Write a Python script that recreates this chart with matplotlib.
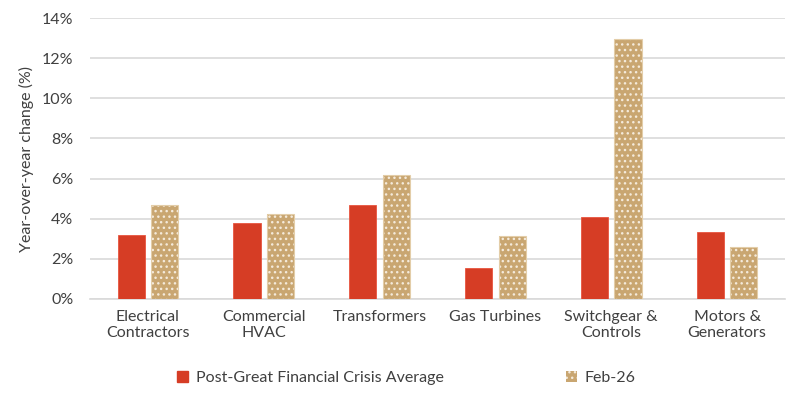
import matplotlib
matplotlib.use("Agg")
import matplotlib.pyplot as plt
import numpy as np
from matplotlib.patches import Patch

categories = ["Electrical\nContractors", "Commercial\nHVAC", "Transformers", "Gas Turbines",
              "Switchgear &\nControls", "Motors &\nGenerators"]
post_gfc = [3.2, 3.8, 4.7, 1.55, 4.1, 3.35]
feb26 = [4.7, 4.25, 6.2, 3.15, 12.95, 2.6]
yticks = [0, 2, 4, 6, 8, 10, 12, 14]

red = "#D63D25"
tan = "#C9A671"
txt = "#404040"

plt.rcParams['font.family'] = ['Lato', 'DejaVu Sans']
plt.rcParams['hatch.linewidth'] = 1.0

fig = plt.figure(figsize=(8, 4), dpi=100)
ax = fig.add_axes([0.1125, 0.2525, 0.86875, 0.7025])

x = np.arange(len(categories))
w = 0.235
off = 0.145
ax.bar(x - off, post_gfc, w, color=red, edgecolor="#E8553F", linewidth=0.6, zorder=3)
ax.bar(x + off, feb26, w, color=tan, edgecolor="#F4EADB", hatch="...", linewidth=0, zorder=3)
ax.bar(x + off, feb26, w, fill=False, edgecolor="#E3CDA8", linewidth=0.8, zorder=4)

ax.set_xlim(-0.5, len(categories) - 0.5)
ax.set_ylim(0, 14)
ax.set_yticks(yticks)
ax.set_yticklabels([f"{v}%" for v in yticks])
ax.set_xticks(x)
ax.set_xticklabels(categories)
ax.yaxis.grid(True, color="#D9D9D9", linewidth=1.2, zorder=0)
ax.set_axisbelow(True)
for s in ["top", "right", "left"]:
    ax.spines[s].set_visible(False)
ax.spines["bottom"].set_color("#D9D9D9")
ax.spines["bottom"].set_linewidth(1.2)
ax.tick_params(axis="both", length=0, colors=txt, labelsize=11.5)
ax.tick_params(axis="y", pad=12)
ax.tick_params(axis="x", pad=8)
ax.set_ylabel("Year-over-year change (%)", color=txt, fontsize=11.5, labelpad=6)

handles = [Patch(facecolor=red, edgecolor=red),
           Patch(facecolor=tan, edgecolor="#F4EADB", hatch="...", linewidth=0)]
fig.legend(handles, ["Post-Great Financial Crisis Average", "Feb-26"], loc="center",
           bbox_to_anchor=(0.508, 0.055), ncol=2, frameon=False, fontsize=11.5,
           columnspacing=7.6, handlelength=0.7, handleheight=0.7, handletextpad=0.5,
           labelcolor=txt)

fig.savefig("out.png", dpi=100)
